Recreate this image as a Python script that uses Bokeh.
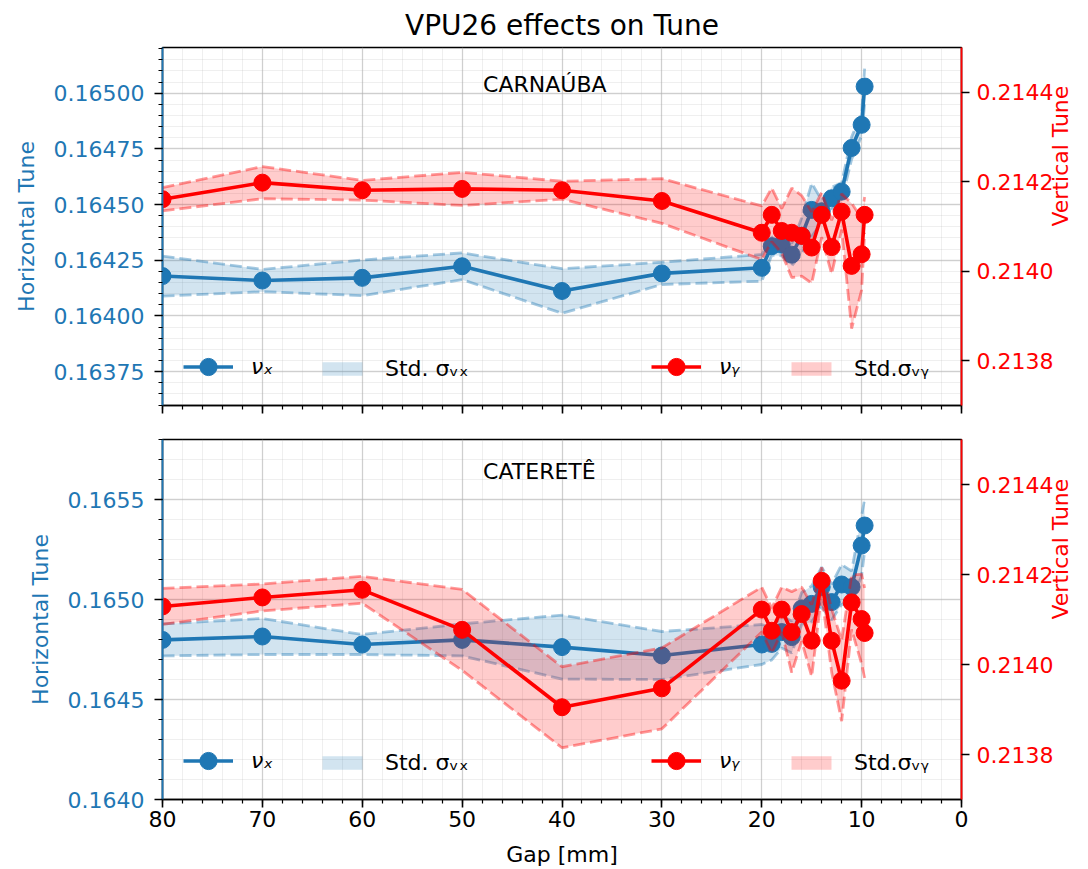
import math
from bokeh.plotting import figure
from bokeh.models import (Range1d, LinearAxis, SingleIntervalTicker, NumeralTickFormatter,
                          Legend, LegendItem, Label)
from bokeh.layouts import column
from bokeh.embed import file_html
from bokeh.resources import INLINE

# ---------------- data ----------------
gap = [80, 70, 60, 50, 40, 30, 20, 19, 18, 17, 16, 15, 14, 13, 12, 11, 10, 9.7]

# CARNAUBA
nux_carnauba = [0.164179, 0.164159, 0.164171, 0.164223, 0.164112, 0.164191, 0.164216, 0.164313,
                0.164320, 0.164275, 0.164360, 0.164476, 0.164470, 0.164528, 0.164558, 0.164754,
                0.164858, 0.165030]
stdx_carnauba = [0.00009, 0.00005, 0.00008, 0.00006, 0.00010, 0.00005, 0.00006, 0.00004,
                 0.00005, 0.00005, 0.00008, 0.00012, 0.00005, 0.00005, 0.00004, 0.00005,
                 0.00005, 0.00008]
nuy_carnauba = [0.214161, 0.214198, 0.214181, 0.214184, 0.214181, 0.214157, 0.214086, 0.214126,
                0.214090, 0.214086, 0.214079, 0.214053, 0.214126, 0.214054, 0.214133, 0.214012,
                0.214038, 0.214126]
stdy_carnauba = [0.000026, 0.000036, 0.000022, 0.000037, 0.000020, 0.000050, 0.000060, 0.000060,
                 0.000050, 0.000100, 0.000090, 0.000080, 0.000050, 0.000060, 0.000040, 0.000140,
                 0.000080, 0.000040]

# CATERETE
nux_caterete = [0.164798, 0.164815, 0.164775, 0.164798, 0.164762, 0.164720, 0.164775, 0.164778,
                0.164837, 0.164812, 0.164955, 0.164978, 0.165062, 0.164987, 0.165075, 0.165062,
                0.165270, 0.165370]
stdx_caterete = [0.00008, 0.00009, 0.00005, 0.00008, 0.00016, 0.00012, 0.00010, 0.00008,
                 0.00008, 0.00008, 0.00008, 0.00009, 0.00010, 0.00009, 0.00010, 0.00008,
                 0.00015, 0.00013]
nuy_caterete = [0.214129, 0.214149, 0.214166, 0.214077, 0.213905, 0.213947, 0.214122, 0.214075,
                0.214122, 0.214072, 0.214112, 0.214053, 0.214186, 0.214053, 0.213964, 0.214138,
                0.214101, 0.214070]
stdy_caterete = [0.00004, 0.00003, 0.00003, 0.00009, 0.00009, 0.00009, 0.00005, 0.00005,
                 0.00005, 0.00009, 0.00006, 0.00008, 0.00003, 0.00007, 0.00009, 0.00006,
                 0.00010, 0.00010]

x_ticks_interval = 10
vy_range = (0.2137, 0.2145)

BLUE = "#1f77b4"
RED = "#ff0000"
FONT = "DejaVu Sans"
FS = "22px"
LW = 3.6

xr = Range1d(80, 0)


def panel(nux, sx, nuy, sy, yrange, yint, yfmt, name, name_y, height, top, bottom, last, title=None):
    p = figure(width=1088, height=height, x_range=xr, y_range=Range1d(*yrange),
               output_backend="svg", toolbar_location=None,
               min_border_left=162, min_border_right=126,
               min_border_top=top, min_border_bottom=bottom)
    p.extra_y_ranges = {"vy": Range1d(*vy_range)}
    p.background_fill_color = "white"
    p.border_fill_color = "white"
    p.outline_line_color = "black"
    p.outline_line_width = 1.6

    if title:
        p.title.text = title
        p.title.align = "center"
        p.title.text_font = FONT
        p.title.text_font_size = "28px"
        p.title.text_font_style = "normal"
        p.title.text_color = "black"
        p.title.standoff = 12

    # x axis
    xa = p.xaxis[0]
    xa.ticker = SingleIntervalTicker(interval=x_ticks_interval, num_minor_ticks=5)
    xa.major_tick_out = 8
    xa.major_tick_in = 0
    xa.minor_tick_out = 4
    xa.minor_tick_in = 0
    xa.major_tick_line_width = 1.6
    xa.minor_tick_line_width = 1.2
    xa.major_tick_line_color = "black"
    xa.minor_tick_line_color = "black"
    xa.axis_line_width = 1.6
    xa.axis_line_color = "black"
    if last:
        xa.major_label_text_font = FONT
        xa.major_label_text_font_size = FS
        xa.major_label_text_color = "black"
        xa.major_label_standoff = 3
        xa.axis_label = "Gap [mm]"
        xa.axis_label_text_font = FONT
        xa.axis_label_text_font_size = FS
        xa.axis_label_text_font_style = "normal"
        xa.axis_label_text_color = "black"
        xa.axis_label_standoff = 12
    else:
        xa.major_label_text_font_size = "8px"
        xa.major_label_text_color = None
        xa.major_label_standoff = 0

    # left axis
    ya = p.yaxis[0]
    ya.ticker = SingleIntervalTicker(interval=yint, num_minor_ticks=5)
    ya.formatter = NumeralTickFormatter(format=yfmt)
    ya.major_tick_out = 8
    ya.major_tick_in = 0
    ya.minor_tick_out = 4
    ya.minor_tick_in = 0
    ya.major_tick_line_width = 1.6
    ya.minor_tick_line_width = 1.2
    ya.major_tick_line_color = "black"
    ya.minor_tick_line_color = "black"
    ya.axis_line_color = BLUE
    ya.axis_line_width = 1.8
    ya.major_label_text_color = BLUE
    ya.major_label_text_font = FONT
    ya.major_label_text_font_size = FS
    ya.major_label_standoff = 10
    ya.axis_label = "Horizontal Tune"
    ya.axis_label_text_color = BLUE
    ya.axis_label_text_font = FONT
    ya.axis_label_text_font_size = FS
    ya.axis_label_text_font_style = "normal"
    ya.axis_label_standoff = 12

    # right axis
    ra = LinearAxis(y_range_name="vy",
                    ticker=SingleIntervalTicker(interval=0.0002, num_minor_ticks=2),
                    formatter=NumeralTickFormatter(format="0.0000"))
    ra.major_tick_out = 8
    ra.major_tick_in = 0
    ra.minor_tick_line_color = None
    ra.major_tick_line_width = 1.6
    ra.major_tick_line_color = "black"
    ra.axis_line_color = RED
    ra.axis_line_width = 1.8
    ra.major_label_text_color = RED
    ra.major_label_text_font = FONT
    ra.major_label_text_font_size = FS
    ra.major_label_standoff = 7
    ra.axis_label = "Vertical Tune"
    ra.axis_label_text_color = RED
    ra.axis_label_text_font = FONT
    ra.axis_label_text_font_size = FS
    ra.axis_label_text_font_style = "normal"
    ra.axis_label_standoff = 4
    if "axis_label_orientation" in ra.properties():
        ra.axis_label_orientation = math.pi / 2
    p.add_layout(ra, "right")

    # grids
    for g in (p.xgrid[0], p.ygrid[0]):
        g.grid_line_color = "#b0b0b0"
        g.grid_line_alpha = 0.5
        g.grid_line_width = 1.3
        g.minor_grid_line_color = "#b0b0b0"
        g.minor_grid_line_alpha = 0.2
        g.minor_grid_line_width = 1.0

    # horizontal tune
    upx = [m + s for m, s in zip(nux, sx)]
    lox = [m - s for m, s in zip(nux, sx)]
    bx = p.varea(x=gap, y1=lox, y2=upx, fill_color=BLUE, fill_alpha=0.2)
    for arr in (upx, lox):
        p.line(gap, arr, line_color=BLUE, line_alpha=0.4, line_width=2.8, line_dash="12 5")
    lx = p.line(gap, nux, line_color=BLUE, line_width=LW)
    mx = p.scatter(gap, nux, size=17, fill_color=BLUE, line_color=BLUE)

    # vertical tune
    upy = [m + s for m, s in zip(nuy, sy)]
    loy = [m - s for m, s in zip(nuy, sy)]
    by = p.varea(x=gap, y1=loy, y2=upy, fill_color=RED, fill_alpha=0.2, y_range_name="vy")
    for arr in (upy, loy):
        p.line(gap, arr, line_color=RED, line_alpha=0.4, line_width=2.8, line_dash="12 5",
               y_range_name="vy")
    ly = p.line(gap, nuy, line_color=RED, line_width=LW, y_range_name="vy")
    my = p.scatter(gap, nuy, size=17, fill_color=RED, line_color=RED, y_range_name="vy")

    def mk_legend(label, rends, loc, style, gh):
        lg = Legend(items=[LegendItem(label=label, renderers=rends)], location=loc,
                    orientation="horizontal",
                    glyph_width=50, glyph_height=gh, label_standoff=18,
                    padding=0, margin=0, border_line_color=None,
                    background_fill_alpha=0.0,
                    label_text_font=FONT, label_text_font_size=FS,
                    label_text_color="black", label_text_font_style=style)
        p.add_layout(lg, "center")

    mk_legend("\u03bd\u2093", [lx, mx], (21, 17), "italic", 43)
    mk_legend("Std. \u03c3\u1d65\u2093", [bx], (155, 24), "normal", 17)
    mk_legend("\u03bd\u1d67", [ly, my], (489, 17), "italic", 43)
    mk_legend("Std.\u03c3\u1d65\u1d67", [by], (624, 24), "normal", 17)

    p.add_layout(Label(x=47.9, y=name_y, text=name, text_font=FONT, text_font_size=FS,
                       text_baseline="alphabetic", text_color="black"))
    return p


p1 = panel(nux_carnauba, stdx_carnauba, nuy_carnauba, stdy_carnauba,
           (0.163598, 0.165205), 0.00025, "0.00000", "CARNAÚBA", 0.165037,
           422, 45, 17, False, title="VPU26 effects on Tune")
p2 = panel(nux_caterete, stdx_caterete, nuy_caterete, stdy_caterete,
           (0.1640, 0.1658), 0.0005, "0.0000", "CATERETÊ", 0.165639,
           447, 17, 70, True)

layout = column(p1, p2)
open("out.html", "w").write(file_html(layout, INLINE))
